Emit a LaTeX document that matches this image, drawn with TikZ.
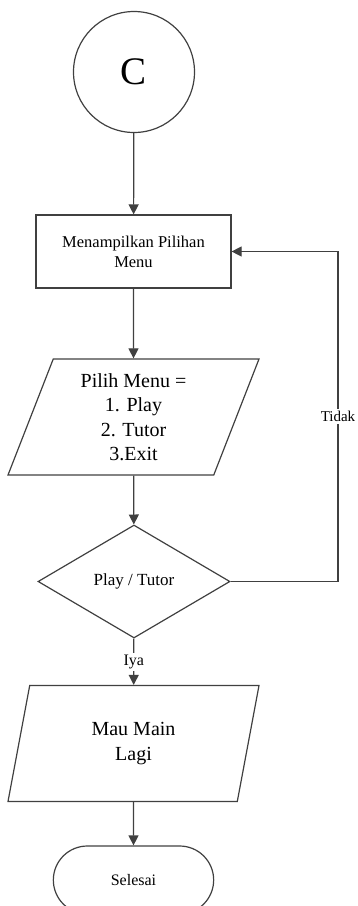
\documentclass[tikz,border=0pt]{standalone}
\usepackage{fontspec}
\setmainfont{Liberation Serif}
\usetikzlibrary{shapes.geometric,shapes.misc,arrows.meta}
\tikzset{every picture/.append style={x=1pt,y=-1pt}}
\tikzset{edge/.style={line width=1.2pt, draw=black!75}}
\tikzset{flow/.style={edge, -{Triangle[width=10pt,length=10pt]}}}
\tikzset{konektor/.style={circle, edge, minimum size=121pt, inner sep=0pt, font=\rmfamily\fontsize{39}{40}\selectfont}}
\tikzset{proses/.style={rectangle, edge, minimum width=195pt, minimum height=73pt, align=center, font=\rmfamily\fontsize{16.5}{20}\selectfont}}
\tikzset{io/.style={trapezium, edge, trapezium left angle=62.7, trapezium right angle=117.3, trapezium stretches body, minimum width=251pt, minimum height=116pt, inner sep=0pt, align=center, font=\rmfamily\fontsize{20}{24.5}\selectfont}}
\tikzset{keputusan/.style={diamond, edge, minimum width=192pt, minimum height=113pt, inner sep=0pt, font=\rmfamily\fontsize{17}{20}\selectfont}}
\tikzset{terminal/.style={rounded rectangle, edge, minimum width=167pt, minimum height=68pt, font=\rmfamily\fontsize{16}{20}\selectfont}}
\tikzset{ket/.style={fill=white, inner sep=2pt, font=\rmfamily\fontsize{16}{18}\selectfont}}

\begin{document}
\begin{tikzpicture}
  \useasboundingbox (0,0) rectangle (358,906);

  \node (c) at (134,72)[konektor]{C};
  \node (menu) at (133.5,251.5)[proses]{Menampilkan Pilihan\\Menu};
  \node (pilih) at (133.5,417)[io]{Pilih Menu =\\1. Play\\2. Tutor\\3.Exit};
  \node (cek) at (134,581.5)[keputusan]{Play / Tutor};
  \node (lagi) at (133.5,743.5)[io]{Mau Main\\Lagi};
  \node (selesai) at (133.5,880)[terminal]{Selesai};
  \coordinate (balik) at (338,0);

  \draw[flow] (c) -- (menu);
  \draw[flow] (menu) -- (pilih);
  \draw[flow] (pilih) -- (cek);
  \draw[flow] (cek) -- node[ket]{Iya} (lagi);
  \draw[flow] (lagi) -- (selesai);
  \draw[flow] (cek.east) -- (cek.east -| balik) -- node[ket, font=\rmfamily\fontsize{15}{18}\selectfont]{Tidak} (menu.east -| balik) -- (menu.east);
\end{tikzpicture}
\end{document}
